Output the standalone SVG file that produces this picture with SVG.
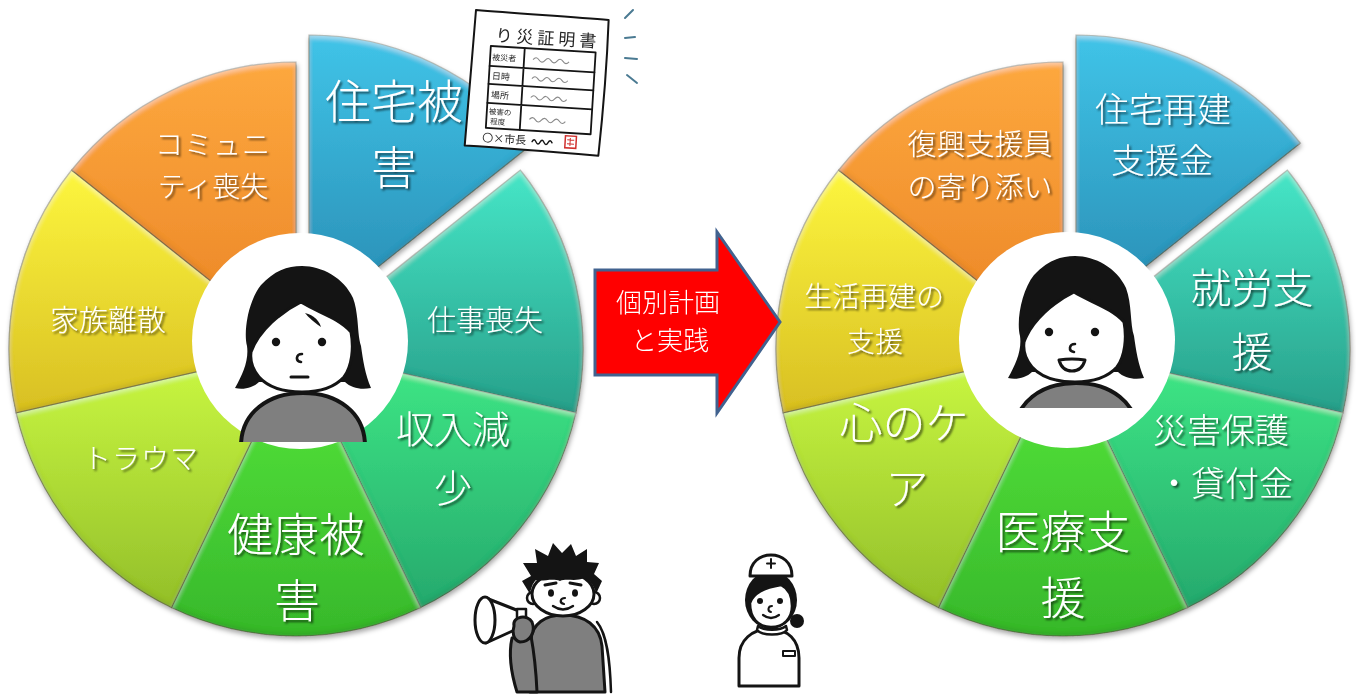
<svg xmlns="http://www.w3.org/2000/svg" xmlns:xlink="http://www.w3.org/1999/xlink" width="1356" height="695" viewBox="0 0 1356 695">
  <defs>
    <style>
      .lbl { font-family: "Noto Sans CJK JP", "Noto Sans", sans-serif; font-weight: 300; fill: #ffffff; text-anchor: middle; }
      .wedge { stroke: #4a4a30; stroke-opacity: 0.5; stroke-width: 1.2; filter: url(#bevel); }
      .ink { stroke: #141414; stroke-linejoin: round; stroke-linecap: round; }
      .cert { font-family: "Noto Sans CJK JP", sans-serif; fill: #262626; }
      .wave { fill: none; stroke: #8a8a8a; stroke-width: 1.1; }
      .arrowtxt { font-family: "Noto Sans CJK JP", "Noto Sans", sans-serif; font-weight: 300; fill: #ffffff; text-anchor: middle; font-size: 26px; }
    </style>

    <!-- wedge fills, light at top and darker toward the bottom -->
    <linearGradient id="gBlue" x1="0" y1="0" x2="0" y2="1"><stop offset="0" stop-color="#40c4e8"/><stop offset="1" stop-color="#2789b0"/></linearGradient>
    <linearGradient id="gTeal" x1="0" y1="0" x2="0" y2="1"><stop offset="0" stop-color="#46e6c7"/><stop offset="1" stop-color="#28a08a"/></linearGradient>
    <linearGradient id="gSea" x1="0" y1="0" x2="0" y2="1"><stop offset="0" stop-color="#3fea86"/><stop offset="1" stop-color="#26a96d"/></linearGradient>
    <linearGradient id="gGreen" x1="0" y1="0" x2="0" y2="1"><stop offset="0" stop-color="#58e83c"/><stop offset="1" stop-color="#37b82b"/></linearGradient>
    <linearGradient id="gLime" x1="0" y1="0" x2="0" y2="1"><stop offset="0" stop-color="#ccfa42"/><stop offset="1" stop-color="#93bf2a"/></linearGradient>
    <linearGradient id="gYellow" x1="0" y1="0" x2="0" y2="1"><stop offset="0" stop-color="#fdf63e"/><stop offset="1" stop-color="#d8bf23"/></linearGradient>
    <linearGradient id="gOrange" x1="0" y1="0" x2="0" y2="1"><stop offset="0" stop-color="#fda83e"/><stop offset="1" stop-color="#ea8325"/></linearGradient>

    <!-- soft bevel: highlight along upper edges, shade along lower edges -->
    <filter id="bevel" x="-5%" y="-5%" width="110%" height="110%">
      <feGaussianBlur in="SourceAlpha" stdDeviation="2.5" result="blur"/>
      <feOffset in="blur" dx="0" dy="3" result="offDown"/>
      <feComposite in="SourceAlpha" in2="offDown" operator="arithmetic" k2="1" k3="-1" result="topEdge"/>
      <feFlood flood-color="#ffffff" flood-opacity="0.4"/>
      <feComposite in2="topEdge" operator="in" result="hi"/>
      <feOffset in="blur" dx="0" dy="-3" result="offUp"/>
      <feComposite in="SourceAlpha" in2="offUp" operator="arithmetic" k2="1" k3="-1" result="botEdge"/>
      <feFlood flood-color="#000000" flood-opacity="0.22"/>
      <feComposite in2="botEdge" operator="in" result="lo"/>
      <feMerge><feMergeNode in="SourceGraphic"/><feMergeNode in="hi"/><feMergeNode in="lo"/></feMerge>
    </filter>
    <filter id="pieShadow" x="-10%" y="-10%" width="120%" height="125%">
      <feDropShadow dx="1" dy="3" stdDeviation="2.5" flood-color="#000" flood-opacity="0.35"/>
    </filter>
    <filter id="txtShadow" x="-20%" y="-30%" width="140%" height="170%">
      <feDropShadow dx="2" dy="2" stdDeviation="1.3" flood-color="#000" flood-opacity="0.6"/>
    </filter>

    <clipPath id="clipLow"><rect x="-110" y="-110" width="220" height="210"/></clipPath>
    <clipPath id="clipHigh"><rect x="-110" y="-110" width="220" height="186"/></clipPath>

    <!-- head with bob haircut, origin between the eyes -->
    <g id="head">
      <path fill="#141414" d="M-64,46 C-56,32 -50,18 -52,4 C-56,-12 -50,-42 -38,-57 C-25,-71 -12,-76 3,-76 C23,-76 45,-64 54,-44 C60,-28 58,-8 62,4 C64,18 66,32 72,46 C62,48 52,46 46,40 L-40,40 C-46,46 -56,48 -64,46 Z"/>
      <path fill="#ffffff" class="ink" stroke-width="3" d="M-48,10 C-40,-12 -18,-30 2,-40 C18,-30 40,-24 52,-10 C55,6 53,24 45,35 C35,46 20,50 3,50 C-15,50 -31,45 -40,35 C-47,27 -49,18 -48,10 Z"/>
      <circle cx="-23" cy="0" r="4.2" fill="#141414"/>
      <circle cx="23" cy="0" r="4.2" fill="#141414"/>
      <path fill="none" class="ink" stroke-width="2.6" d="M3,12 C-3,12 -4,19 2,20"/>
    </g>
    <!-- grey sweater -->
    <path id="torso" fill="#7f7f7f" class="ink" stroke-width="4" d="M-58,104 C-58,70 -30,51 4,51 C38,51 66,70 66,104 Z"/>
  </defs>

  <rect width="1356" height="695" fill="#ffffff"/>

  <!-- ===== left wheel: problems after the disaster ===== -->
  <g id="pie-before">
    <g filter="url(#pieShadow)">
      <g id="seg-housing-damage">
        <path class="wedge" fill="url(#gBlue)" d="M309,322 L309,35 A287,287 0 0 1 533.39,143.06 Z"/>
      </g>
      <g id="seg-job-loss">
        <path class="wedge" fill="url(#gTeal)" d="M296,349 L520.39,170.06 A287,287 0 0 1 575.80,412.86 Z"/>
      </g>
      <g id="seg-income-loss">
        <path class="wedge" fill="url(#gSea)" d="M296,349 L575.80,412.86 A287,287 0 0 1 420.52,607.58 Z"/>
      </g>
      <g id="seg-health-damage">
        <path class="wedge" fill="url(#gGreen)" d="M296,349 L420.52,607.58 A287,287 0 0 1 171.48,607.58 Z"/>
      </g>
      <g id="seg-trauma">
        <path class="wedge" fill="url(#gLime)" d="M296,349 L171.48,607.58 A287,287 0 0 1 16.20,412.86 Z"/>
      </g>
      <g id="seg-family">
        <path class="wedge" fill="url(#gYellow)" d="M296,349 L16.20,412.86 A287,287 0 0 1 71.61,170.06 Z"/>
      </g>
      <g id="seg-community">
        <path class="wedge" fill="url(#gOrange)" d="M296,349 L71.61,170.06 A287,287 0 0 1 296,62 Z"/>
      </g>
    </g>
    <g filter="url(#txtShadow)">
      <text class="lbl" font-size="46" x="394" y="118">住宅被</text>
      <text class="lbl" font-size="46" x="394" y="184">害</text>
      <text class="lbl" font-size="29" x="485" y="331">仕事喪失</text>
      <text class="lbl" font-size="38" x="453" y="443">収入減</text>
      <text class="lbl" font-size="38" x="453" y="502">少</text>
      <text class="lbl" font-size="46" x="296" y="551">健康被</text>
      <text class="lbl" font-size="46" x="297" y="617">害</text>
      <text class="lbl" font-size="28" x="141" y="469" letter-spacing="1">トラウマ</text>
      <text class="lbl" font-size="29" x="108" y="331">家族離散</text>
      <text class="lbl" font-size="28" x="213" y="155" letter-spacing="1">コミュニ</text>
      <text class="lbl" font-size="28" x="213" y="197">ティ喪失</text>
    </g>
    <g id="person-before">
      <circle cx="300" cy="341" r="108" fill="#ffffff"/>
      <g transform="translate(299,342)" clip-path="url(#clipLow)">
        <use xlink:href="#head"/>
        <path fill="#141414" d="M6,-29 C14,-27 20,-22 22,-15 C16,-19 11,-23 6,-29 Z"/>
        <path fill="none" class="ink" stroke-width="3" d="M-8,35 L9,35"/>
        <use xlink:href="#torso"/>
      </g>
    </g>
  </g>

  <!-- ===== right wheel: support after individual planning ===== -->
  <g id="pie-after">
    <g filter="url(#pieShadow)">
      <g id="seg-rebuild-fund">
        <path class="wedge" fill="url(#gBlue)" d="M1076,322 L1076,35 A287,287 0 0 1 1300.39,143.06 Z"/>
      </g>
      <g id="seg-employment">
        <path class="wedge" fill="url(#gTeal)" d="M1063,349 L1287.39,170.06 A287,287 0 0 1 1342.80,412.86 Z"/>
      </g>
      <g id="seg-relief-loan">
        <path class="wedge" fill="url(#gSea)" d="M1063,349 L1342.80,412.86 A287,287 0 0 1 1187.52,607.58 Z"/>
      </g>
      <g id="seg-medical">
        <path class="wedge" fill="url(#gGreen)" d="M1063,349 L1187.52,607.58 A287,287 0 0 1 938.48,607.58 Z"/>
      </g>
      <g id="seg-mental-care">
        <path class="wedge" fill="url(#gLime)" d="M1063,349 L938.48,607.58 A287,287 0 0 1 783.20,412.86 Z"/>
      </g>
      <g id="seg-life-rebuild">
        <path class="wedge" fill="url(#gYellow)" d="M1063,349 L783.20,412.86 A287,287 0 0 1 838.61,170.06 Z"/>
      </g>
      <g id="seg-supporter">
        <path class="wedge" fill="url(#gOrange)" d="M1063,349 L838.61,170.06 A287,287 0 0 1 1063,62 Z"/>
      </g>
    </g>
    <g filter="url(#txtShadow)">
      <text class="lbl" font-size="34" x="1163" y="122">住宅再建</text>
      <text class="lbl" font-size="34" x="1162" y="173">支援金</text>
      <text class="lbl" font-size="41" x="1252" y="303">就労支</text>
      <text class="lbl" font-size="41" x="1252" y="367">援</text>
      <text class="lbl" font-size="34" x="1221" y="443">災害保護</text>
      <text class="lbl" font-size="34" x="1225" y="496">・貸付金</text>
      <text class="lbl" font-size="45" x="1063" y="549">医療支</text>
      <text class="lbl" font-size="45" x="1063" y="615">援</text>
      <text class="lbl" font-size="43" x="904" y="439">心のケ</text>
      <text class="lbl" font-size="43" x="907" y="505">ア</text>
      <text class="lbl" font-size="28" x="874" y="307">生活再建の</text>
      <text class="lbl" font-size="28" x="875" y="352">支援</text>
      <text class="lbl" font-size="29" x="980" y="155">復興支援員</text>
      <text class="lbl" font-size="29" x="980" y="198">の寄り添い</text>
    </g>
    <g id="person-after">
      <circle cx="1067" cy="340" r="108" fill="#ffffff"/>
      <g transform="translate(1072,332)" clip-path="url(#clipHigh)">
        <use xlink:href="#head"/>
        <path fill="#ffffff" class="ink" stroke-width="3" d="M-13,28 Q0,26 13,28 Q10,39 0,39 Q-10,39 -13,28 Z"/>
        <use xlink:href="#torso"/>
      </g>
    </g>
  </g>

  <!-- ===== block arrow between the wheels ===== -->
  <g id="arrow-plan">
    <polygon points="595,270 717,270 717,232 780,322 717,413 717,375 595,375" fill="#ff0000" stroke="#41628f" stroke-width="3" stroke-linejoin="miter"/>
    <text class="arrowtxt" x="668" y="312">個別計画</text>
    <text class="arrowtxt" x="670" y="350">と実践</text>
  </g>

  <!-- ===== disaster certificate sheet ===== -->
  <g id="certificate">
    <g transform="translate(476,10) rotate(3.5)">
      <path fill="#ffffff" class="ink" stroke-width="2" d="M0,0 C40,1 95,1 133,2 C134,45 133,95 131,138 C90,137 40,136 -3,136 C-2,95 -1,45 0,0 Z"/>
      <text class="cert" x="21" y="30" font-size="17" letter-spacing="4">り災証明書</text>
      <g fill="none" class="ink" stroke-width="1.8">
        <rect x="17" y="35" width="105" height="82"/>
        <path d="M17,55 L122,55 M17,73 L122,73 M17,92 L122,92 M51,35 L51,117"/>
      </g>
      <text class="cert" x="19" y="49" font-size="8">被災者</text>
      <text class="cert" x="20" y="68" font-size="9">日時</text>
      <text class="cert" x="20" y="87" font-size="9">場所</text>
      <text class="cert" x="19" y="103" font-size="7.5">被害の</text>
      <text class="cert" x="21" y="113" font-size="7.5">程度</text>
      <path class="wave" d="M60,46 q3,-4 6,0 t6,0 t6,0 t6,0 t6,0 t6,0"/>
      <path class="wave" d="M60,65 q3,-4 6,0 t6,0 t6,0 t6,0 t6,0 t6,0"/>
      <path class="wave" d="M60,84 q3,-4 6,0 t6,0 t6,0 t6,0 t6,0 t6,0"/>
      <path class="wave" d="M60,106 q3,-4 6,0 t6,0 t6,0 t6,0 t6,0 t6,0"/>
      <text class="cert" x="14" y="131" font-size="11">〇×市長</text>
      <path fill="none" class="ink" stroke-width="1.4" d="M64,128 q2,-4 4,0 t4,0 t4,0 t4,0 t4,0"/>
      <rect x="97" y="120" width="11" height="12" fill="none" stroke="#d0302e" stroke-width="1.5"/>
      <path fill="none" stroke="#d0302e" stroke-width="1" d="M99,124 h7 M102,122 v8 M99,128 h7"/>
    </g>
    <g fill="none" stroke="#4a7a92" stroke-width="2" stroke-linecap="round">
      <path d="M625,18 L633,10"/>
      <path d="M625,38 L635,37"/>
      <path d="M625,58 L637,59"/>
      <path d="M627,75 L637,83"/>
    </g>
  </g>

  <!-- ===== supporter with a megaphone ===== -->
  <g id="megaphone-man">
    <path fill="#7f7f7f" class="ink" stroke-width="3" d="M530,692 L531,640 C532,624 545,615 563,615 C585,615 600,626 602,646 L605,692 Z"/>
    <path fill="none" class="ink" stroke-width="2.5" d="M597,622 C607,634 610,660 611,692"/>
    <path fill="#7f7f7f" class="ink" stroke-width="3" d="M512,638 C508,656 512,676 517,692 L537,692 C536,670 534,652 531,636 Z"/>
    <circle cx="533" cy="598" r="6" fill="#ffffff" class="ink" stroke-width="2.5"/>
    <circle cx="594" cy="598" r="6" fill="#ffffff" class="ink" stroke-width="2.5"/>
    <ellipse cx="563" cy="594" rx="31" ry="22" fill="#ffffff" class="ink" stroke-width="3"/>
    <path fill="#141414" d="M530,594 L522,581 L531,576 L523,563 L537,563 L535,549 L548,556 L553,543 L562,553 L571,544 L576,556 L587,549 L587,562 L599,563 L594,574 L602,581 L596,594 C594,585 590,580 584,578 C576,582 566,578 560,581 C552,578 542,582 536,580 C532,584 531,589 530,594 Z"/>
    <path fill="none" class="ink" stroke-width="3" d="M545,585 L556,583 M570,583 L581,585"/>
    <ellipse cx="551" cy="593" rx="3" ry="3.8" fill="#141414"/>
    <ellipse cx="575" cy="593" rx="3" ry="3.8" fill="#141414"/>
    <path fill="none" class="ink" stroke-width="2.2" d="M565,598 C560,598 559,603 564,604"/>
    <path fill="none" class="ink" stroke-width="2.4" d="M553,606 Q563,613 573,606"/>
    <path fill="#ffffff" class="ink" stroke-width="3" d="M486,598 L519,611 L519,628 L486,643 Z"/>
    <ellipse cx="485" cy="620" rx="10" ry="23" fill="#ffffff" class="ink" stroke-width="3"/>
    <rect x="517" y="609" width="9" height="21" fill="#ffffff" class="ink" stroke-width="2.5"/>
    <path fill="#7f7f7f" class="ink" stroke-width="3" d="M514,626 C512,616 528,614 532,622 C536,632 530,642 520,642 C513,640 512,632 514,626 Z"/>
  </g>

  <!-- ===== nurse ===== -->
  <g id="nurse">
    <path fill="#ffffff" class="ink" stroke-width="3" d="M739,686 L739,658 C739,640 752,629 770,629 C788,629 799,640 799,658 L799,686 Z"/>
    <rect x="783" y="651" width="12" height="5" fill="#ffffff" class="ink" stroke-width="2"/>
    <ellipse cx="771" cy="600" rx="26" ry="29" fill="#141414"/>
    <circle cx="797" cy="621" r="7" fill="#141414"/>
    <path fill="#ffffff" class="ink" stroke-width="2.5" d="M757,630 C762,636 782,636 787,630 L786,626 C780,631 764,631 758,626 Z"/>
    <path fill="#ffffff" class="ink" stroke-width="2.5" d="M750,603 C754,591 768,587 781,585 C789,589 792,597 792,606 C792,618 784,627 771,627 C758,627 750,618 750,603 Z"/>
    <circle cx="760" cy="601" r="3" fill="#141414"/>
    <circle cx="780" cy="601" r="3" fill="#141414"/>
    <path fill="none" class="ink" stroke-width="2" d="M772,606 C768,606 767,611 771,612"/>
    <path fill="none" class="ink" stroke-width="2.2" d="M763,615 Q771,621 779,615"/>
    <path fill="#ffffff" class="ink" stroke-width="3" d="M750,576 C750,562 760,555 771,555 C782,555 792,562 792,576 Z"/>
    <path fill="none" class="ink" stroke-width="2" d="M771,559 L771,568 M767,563.5 L775,563.5"/>
  </g>
</svg>
